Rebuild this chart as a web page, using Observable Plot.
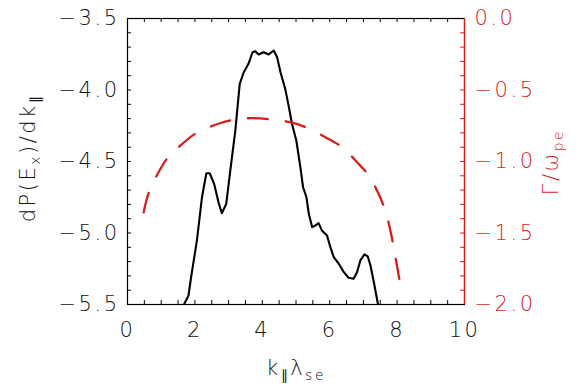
<!DOCTYPE html>
<html><head><meta charset="utf-8">
<script src="https://cdn.jsdelivr.net/npm/d3@7"></script>
<script src="https://cdn.jsdelivr.net/npm/@observablehq/plot@0.6"></script>
<style>
html,body{margin:0;padding:0;background:#fff}
#chart svg{display:block}
</style></head><body><div id="chart"></div>
<script>
// ---- data ----
const kPower = [1.60,1.66,1.81,1.88,2.06,2.21,2.34,2.44,2.57,2.70,2.80,2.93,3.05,3.20,3.33,3.45,3.59,3.71,3.79,3.89,4.04,4.19,4.34,4.44,4.54,4.68,4.78,4.88,5.01,5.13,5.21,5.31,5.38,5.48,5.57,5.67,5.77,5.92,6.02,6.12,6.27,6.42,6.56,6.71,6.81,6.91,7.03,7.13,7.21,7.31,7.43,7.48];
const dPdk = [-5.60,-5.507,-5.437,-5.32,-5.052,-4.75,-4.582,-4.582,-4.656,-4.785,-4.862,-4.796,-4.563,-4.283,-3.957,-3.876,-3.817,-3.736,-3.729,-3.752,-3.736,-3.752,-3.724,-3.771,-3.876,-3.992,-4.108,-4.236,-4.353,-4.54,-4.68,-4.75,-4.866,-4.959,-4.948,-4.931,-4.983,-5.017,-5.099,-5.169,-5.215,-5.274,-5.313,-5.32,-5.274,-5.192,-5.15,-5.164,-5.227,-5.344,-5.495,-5.58];
const kGamma = [0.48,0.62,0.87,1.17,1.57,2.01,2.55,3.15,3.69,4.24,4.83,5.33,5.87,6.37,6.81,7.16,7.45,7.65,7.80,7.95,8.10];
const gamma = [-1.355,-1.226,-1.098,-0.981,-0.888,-0.806,-0.748,-0.708,-0.697,-0.706,-0.725,-0.764,-0.830,-0.900,-1.005,-1.098,-1.226,-1.343,-1.483,-1.669,-1.867];
const xTicks = [0,2,4,6,8,10];
const yTicks = [-5.5,-5.0,-4.5,-4.0,-3.5];
const gTicks = [-2.0,-1.5,-1.0,-0.5,0.0];
const xDomain = [0,10], yDomain = [-5.5,-3.5], gDomain = [-2,0];
const xMinorStep = 0.5, yMinorStep = 0.1;

const red = "#d61e1e";
const W = 581, H = 387, mL = 127, mR = 117, mT = 18, mB = 83;
const plotW = W - mL - mR, plotH = H - mT - mB;
const TS = 4; // tick length, drawn inward
const g2y = g => yDomain[0] + (g - gDomain[0]) * (yDomain[1]-yDomain[0]) / (gDomain[1]-gDomain[0]);
const fmt1 = d3.format(".1f");
const power = kPower.map((k,i) => ({x:k, y:dPdk[i]}));
const growth = kGamma.map((k,i) => ({x:k, g:gamma[i]}));
const xMinor = d3.range(1, 20).map(i => xDomain[0] + i*xMinorStep);
const yMinor = d3.range(1, 20).map(i => +(yDomain[0] + i*yMinorStep).toFixed(2));

const chart = Plot.plot({
  width: W, height: H,
  marginLeft: mL, marginRight: mR, marginTop: mT, marginBottom: mB,
  style: {fontFamily: "'DejaVu Sans', sans-serif", fontSize: "21px", fontWeight: 200, letterSpacing: "2.5px", background: "#fff", color: "#111"},
  x: {domain: xDomain},
  y: {domain: yDomain},
  marks: [
    Plot.line(power, {x: "x", y: "y", stroke: "#000", strokeWidth: 2.1, clip: true}),
    Plot.line(growth, {x: "x", y: d => g2y(d.g), stroke: red, strokeWidth: 2.3, strokeDasharray: "20,18", curve: "catmull-rom", clip: true}),
    // inward ticks
    Plot.tickX(xMinor, {x: d => d, insetTop: plotH - TS, stroke: "#000", strokeWidth: 1}),
    Plot.tickX(xMinor, {x: d => d, insetBottom: plotH - TS, stroke: "#000", strokeWidth: 1}),
    Plot.tickY(yMinor, {y: d => d, insetRight: plotW - TS, stroke: "#000", strokeWidth: 1}),
    Plot.tickY(yMinor, {y: d => d, insetLeft: plotW - TS, stroke: red, strokeWidth: 1}),
    Plot.frame({stroke: "#000", strokeWidth: 1.2}),
    Plot.ruleX([xDomain[1]], {stroke: red, strokeWidth: 1.2}),
    // labels
    Plot.axisX(xTicks, {anchor: "bottom", tickSize: 0, tickPadding: 18, tickFormat: d => String(d), fill: "#111", label: null}),
    Plot.axisY(yTicks, {anchor: "left", tickSize: 0, tickPadding: 8, tickFormat: d => fmt1(d), fill: "#111", label: null}),
    Plot.axisY(yTicks, {anchor: "right", tickSize: 0, tickPadding: 10, tickFormat: (d) => fmt1(gTicks[yTicks.indexOf(d)]), fill: red, label: null})
  ]
});
document.getElementById("chart").appendChild(chart);

// axis titles with subscripts
const svg = d3.select(chart);
function title(parts, transform, color) {
  const t = svg.append("text").attr("transform", transform).attr("text-anchor", "middle")
    .attr("fill", color).style("font-size", "21px").style("letter-spacing", "2.5px");
  let sub = false;
  for (const [s, isSub] of parts) {
    const ts = t.append("tspan").text(s).style("font-size", isSub ? "14px" : "21px");
    if (isSub !== sub) ts.attr("dy", isSub ? 5 : -5);
    sub = isSub;
  }
}
title([["dP(E", false], ["x", true], [")/dk", false], ["\u2225", true]], "translate(35,158) rotate(-90)", "#111");
title([["k", false], ["\u2225", true], ["\u03bb", false], ["se", true]], "translate(296,375)", "#111");
title([["\u0393/\u03c9", false], ["pe", true]], "translate(558,162) rotate(-90)", red);
</script>
</body></html>
